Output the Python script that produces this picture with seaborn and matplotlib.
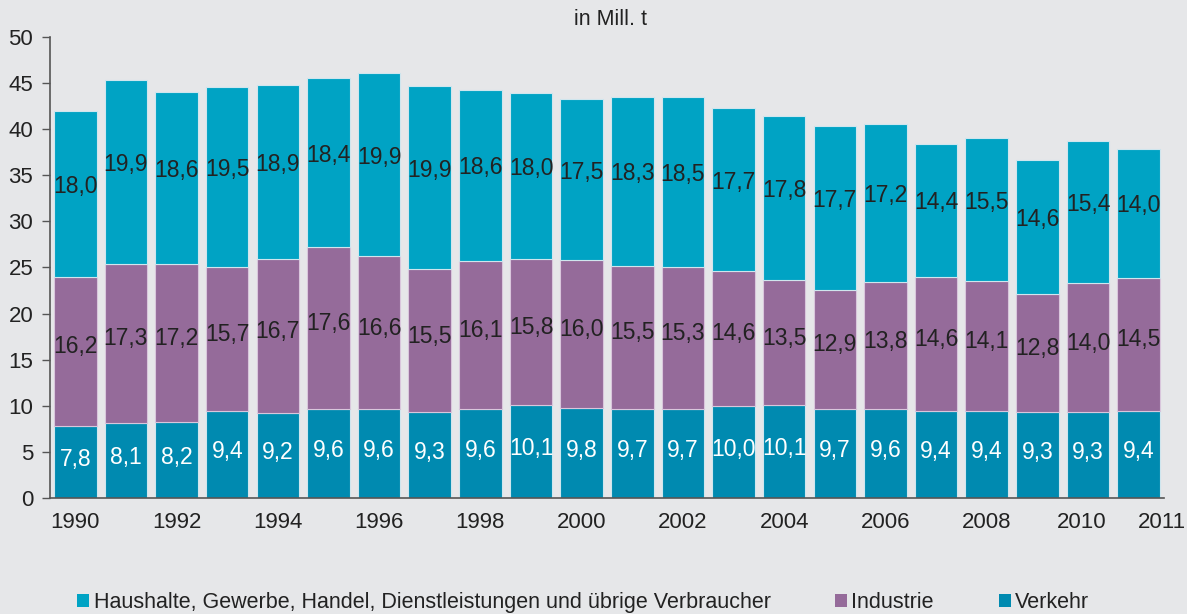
import matplotlib
matplotlib.use("Agg")
import matplotlib.pyplot as plt
from matplotlib.patches import Patch
import seaborn as sns
import pandas as pd
import numpy as np

years = list(range(1990, 2012))
verkehr = [7.8, 8.1, 8.2, 9.4, 9.2, 9.6, 9.6, 9.3, 9.6, 10.1, 9.8, 9.7, 9.7, 10.0, 10.1, 9.7, 9.6, 9.4, 9.4, 9.3, 9.3, 9.4]
industrie = [16.2, 17.3, 17.2, 15.7, 16.7, 17.6, 16.6, 15.5, 16.1, 15.8, 16.0, 15.5, 15.3, 14.6, 13.5, 12.9, 13.8, 14.6, 14.1, 12.8, 14.0, 14.5]
haushalte = [18.0, 19.9, 18.6, 19.5, 18.9, 18.4, 19.9, 19.9, 18.6, 18.0, 17.5, 18.3, 18.5, 17.7, 17.8, 17.7, 17.2, 14.4, 15.5, 14.6, 15.4, 14.0]
series_names = ["Haushalte, Gewerbe, Handel, Dienstleistungen und übrige Verbraucher", "Industrie", "Verkehr"]
yticks = [0, 5, 10, 15, 20, 25, 30, 35, 40, 45, 50]
xlabels_shown = [1990, 1992, 1994, 1996, 1998, 2000, 2002, 2004, 2006, 2008, 2010, 2011]

c_haus = "#00a3c4"
c_ind = "#956b9a"
c_ver = "#008ab0"
bg = "#e6e7e9"
txt = "#222222"

sns.set_theme(style="white")
plt.rcParams['font.family'] = ['Liberation Sans', 'DejaVu Sans']

df = pd.DataFrame({"Jahr": [str(y) for y in years], "Verkehr": verkehr,
                   "Industrie": industrie, "Haushalte": haushalte})
df["b_ind"] = df["Verkehr"]
df["b_haus"] = df["Verkehr"] + df["Industrie"]

fig = plt.figure(figsize=(11.87, 6.14), dpi=100, facecolor=bg)
ax = fig.add_axes([0.0421, 0.189, 0.9385, 0.7507])
ax.set_facecolor(bg)

w = 0.84
ec = "#cfe6ee"
sns.barplot(data=df, x="Jahr", y="Verkehr", color=c_ver, width=w, ax=ax,
            saturation=1, edgecolor=ec, linewidth=0.8)
sns.barplot(data=df, x="Jahr", y="Industrie", bottom=df["b_ind"], color=c_ind, width=w, ax=ax,
            saturation=1, edgecolor="#d9c6dc", linewidth=0.8)
sns.barplot(data=df, x="Jahr", y="Haushalte", bottom=df["b_haus"], color=c_haus, width=w, ax=ax,
            saturation=1, edgecolor=ec, linewidth=0.8)

fmt = lambda v: f"{v:.1f}".replace(".", ",")
fs = 16.5
for i in range(len(years)):
    ax.text(i, verkehr[i] / 2 + 0.3, fmt(verkehr[i]), ha="center", va="center",
            color="white", fontsize=fs)
    ax.text(i, verkehr[i] + industrie[i] / 2 + 0.5, fmt(industrie[i]), ha="center", va="center",
            color=txt, fontsize=fs)
    ax.text(i, verkehr[i] + industrie[i] + haushalte[i] / 2 + 0.8, fmt(haushalte[i]), ha="center",
            va="center", color=txt, fontsize=fs)

ax.set_xlim(-0.5, len(years) - 0.5)
ax.set_ylim(0, 50)
ax.set_yticks(yticks)
ax.set_yticklabels([str(t) for t in yticks], fontsize=16, color=txt)
xpos = [years.index(y) for y in xlabels_shown]
xpos[-2] = xpos[-2] - 0.12
xpos[-1] = xpos[-1] + 0.45
ax.set_xticks(xpos)
ax.set_xticklabels([str(y) for y in xlabels_shown], fontsize=16, color=txt)
ax.set_xticks(np.arange(-0.5, len(years), 1.0), minor=True)
ax.tick_params(axis="x", which="major", length=0, pad=10)
ax.tick_params(axis="x", which="minor", length=6, width=1, color="#555555", direction="out")
ax.tick_params(axis="y", length=6, width=1, color="#555555", direction="out", pad=6, left=True)
ax.set_xlabel("")
ax.set_ylabel("")
for s in ["top", "right"]:
    ax.spines[s].set_visible(False)
for s in ["left", "bottom"]:
    ax.spines[s].set_color("#555555")
    ax.spines[s].set_linewidth(1.2)

fig.text(0.514, 0.968, "in Mill. t", ha="center", va="center", fontsize=15.5, color=txt)

handles = [Patch(facecolor=c_haus, edgecolor="none"), Patch(facecolor=c_ind, edgecolor="none"),
           Patch(facecolor=c_ver, edgecolor="none")]
fig.legend(handles, series_names, loc="center left", bbox_to_anchor=(0.065, 0.018), ncol=3,
           frameon=False, fontsize=15.5, handlelength=0.56, handleheight=0.56, handletextpad=0.2,
           columnspacing=3.0, labelcolor=txt, borderaxespad=0, borderpad=0)

fig.savefig("out.png", dpi=100, facecolor=bg)
